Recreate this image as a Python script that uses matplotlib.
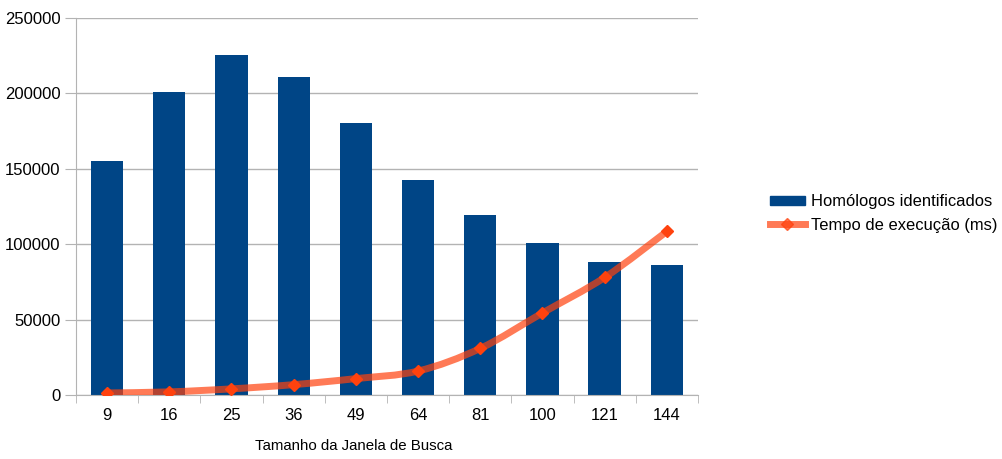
import numpy as np
import matplotlib.pyplot as plt
from matplotlib.path import Path
from matplotlib.patches import PathPatch, Patch
from matplotlib.lines import Line2D

plt.rcParams['font.family'] = ['Liberation Sans', 'DejaVu Sans']

# Dados
janelas = ['9', '16', '25', '36', '49', '64', '81', '100', '121', '144']
homologos = [155000, 201000, 225500, 211000, 180500, 142800, 119500, 100800, 88000, 86000]
tempo_ms = [1500, 2200, 4200, 7000, 11000, 16000, 31000, 54500, 78000, 108500]

cor_barra = '#004586'
cor_linha = '#ff420e'
cor_grade = '#b3b3b3'

fig = plt.figure(figsize=(10.03, 4.59), dpi=100)
ax = fig.add_axes([0.0758, 0.139, 0.620, 0.822])

x = np.arange(len(janelas))
ax.bar(x, homologos, width=0.52, color=cor_barra, zorder=2)

# curva suavizada (bezier estilo Catmull-Rom) passando pelos pontos
pts = np.column_stack([x, tempo_ms]).astype(float)
ext = np.vstack([pts[0], pts, pts[-1]])
verts = [pts[0]]
codes = [Path.MOVETO]
for i in range(len(pts) - 1):
    p0, p1, p2, p3 = ext[i], ext[i + 1], ext[i + 2], ext[i + 3]
    verts += [p1 + (p2 - p0) / 6, p2 - (p3 - p1) / 6, p2]
    codes += [Path.CURVE4] * 3
ax.add_patch(PathPatch(Path(verts, codes), fill=False, edgecolor=cor_linha,
                       lw=5, alpha=0.7, zorder=3, capstyle='round'))
ax.plot(x, tempo_ms, 'D', color=cor_linha, markersize=6.5, zorder=4)

ax.set_xlim(-0.5, len(janelas) - 0.5)
ax.set_ylim(0, 250000)
ax.set_yticks(np.arange(0, 250001, 50000))
ax.yaxis.grid(True, color=cor_grade, lw=1, zorder=0)
ax.set_axisbelow(True)

ax.set_xticks(x)
ax.set_xticklabels(janelas)
ax.set_xticks(np.arange(-0.5, len(janelas)), minor=True)
ax.tick_params(axis='x', which='major', length=0, pad=9, labelsize=12)
ax.tick_params(axis='x', which='minor', length=6, color=cor_grade)
ax.tick_params(axis='y', length=8, color=cor_grade, pad=3, labelsize=12)

for s in ['top', 'right']:
    ax.spines[s].set_visible(False)
for s in ['left', 'bottom']:
    ax.spines[s].set_color(cor_grade)

ax.set_xlabel('Tamanho da Janela de Busca', fontsize=10.8)
ax.xaxis.set_label_coords(0.446, -0.115)

handles = [Patch(color=cor_barra),
           Line2D([], [], color=cor_linha, lw=5, alpha=0.7, marker='D',
                  markersize=6.5, markerfacecolor=cor_linha, markeredgecolor=cor_linha)]
fig.legend(handles, ['Homólogos identificados', 'Tempo de execução (ms)'],
           loc='center left', bbox_to_anchor=(0.753, 0.535), frameon=False,
           fontsize=11.9, handlelength=2.1, handleheight=0.45, handletextpad=0.4,
           labelspacing=0.5)

fig.savefig('out.png', dpi=100)
